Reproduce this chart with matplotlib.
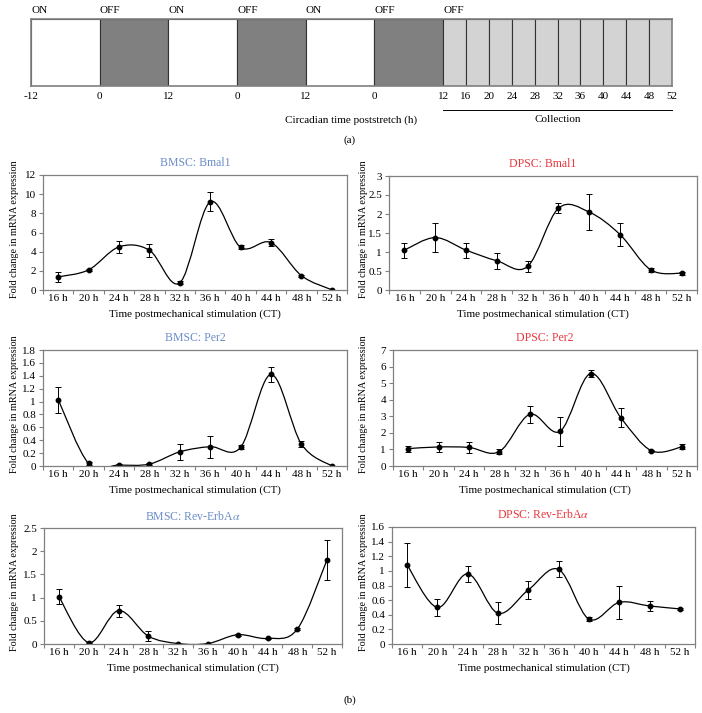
import numpy as np
import matplotlib
matplotlib.use("Agg")
import matplotlib.pyplot as plt
from matplotlib.path import Path
from matplotlib.patches import PathPatch

plt.rcParams['font.family'] = ['Liberation Serif', 'DejaVu Serif']
plt.rcParams['mathtext.fontset'] = 'stix'

# (a) light schedule
block_hours = [12, 12, 12, 12, 12, 12, 4, 4, 4, 4, 4, 4, 4, 4, 4, 4]
block_colors = ['white', '#808080', 'white', '#808080', 'white', '#808080'] + ['#d3d3d3'] * 10
onoff_labels = ['ON', 'OFF', 'ON', 'OFF', 'ON', 'OFF', 'OFF']
schedule_ticks = ['-12', '0', '12', '0', '12', '0', '12',
                  '16', '20', '24', '28', '32', '36', '40', '44', '48', '52']

# (b) expression data
times = ['16 h', '20 h', '24 h', '28 h', '32 h', '36 h', '40 h', '44 h', '48 h', '52 h']

bmsc_bmal1 = [1.37, 2.1, 4.5, 4.15, 0.75, 9.2, 4.45, 4.95, 1.5, 0.02]
bmsc_bmal1_err = [0.5, 0.1, 0.6, 0.7, 0.15, 1.0, 0.2, 0.35, 0.1, 0.0]

dpsc_bmal1 = [1.05, 1.38, 1.05, 0.77, 0.62, 2.15, 2.05, 1.46, 0.53, 0.44]
dpsc_bmal1_err = [0.2, 0.38, 0.2, 0.21, 0.15, 0.13, 0.47, 0.3, 0.05, 0.04]

bmsc_per2 = [1.03, 0.04, 0.015, 0.03, 0.22, 0.3, 0.29, 1.42, 0.34, 0.0]
bmsc_per2_err = [0.2, 0.02, 0.01, 0.01, 0.125, 0.17, 0.03, 0.12, 0.05, 0.0]

dpsc_per2 = [1.05, 1.15, 1.12, 0.87, 3.12, 2.1, 5.58, 2.9, 0.92, 1.15]
dpsc_per2_err = [0.18, 0.28, 0.35, 0.15, 0.5, 0.87, 0.2, 0.57, 0.05, 0.15]

bmsc_rev = [1.02, 0.03, 0.72, 0.17, 0.01, 0.01, 0.2, 0.12, 0.32, 1.82]
bmsc_rev_err = [0.16, 0.01, 0.13, 0.1, 0.0, 0.0, 0.02, 0.02, 0.02, 0.43]

dpsc_rev = [1.08, 0.5, 0.96, 0.42, 0.74, 1.02, 0.34, 0.57, 0.52, 0.48]
dpsc_rev_err = [0.3, 0.12, 0.11, 0.15, 0.12, 0.11, 0.03, 0.23, 0.07, 0.01]

W, H = 702, 713
BLUE = '#6b8cc8'
RED = '#e8383d'
GRAY = '#808080'

fig = plt.figure(figsize=(W / 100, H / 100), dpi=100)


def px_axes(left, top, right, bottom):
    return fig.add_axes([left / W, 1 - bottom / H, (right - left) / W, (bottom - top) / H])


def smooth_path(x, y, t=1 / 6):
    # excel style smoothed line as cubic bezier segments
    n = len(x)
    verts = [(x[0], y[0])]
    codes = [Path.MOVETO]
    for i in range(n - 1):
        a = i - 1 if i > 0 else i
        d = i + 2 if i + 2 < n else i + 1
        c1 = (x[i] + (x[i + 1] - x[a]) * t, y[i] + (y[i + 1] - y[a]) * t)
        c2 = (x[i + 1] - (x[d] - x[i]) * t, y[i + 1] - (y[d] - y[i]) * t)
        verts += [c1, c2, (x[i + 1], y[i + 1])]
        codes += [Path.CURVE4] * 3
    return Path(verts, codes)


# ---- (a) ----
ax = px_axes(31, 19, 672, 86)
starts = np.concatenate([[0], np.cumsum(block_hours)[:-1]])
ax.bar(starts, [1] * len(block_hours), width=block_hours, align='edge',
       color=block_colors, edgecolor='#333333', linewidth=0.8)
ax.set_xlim(0, sum(block_hours))
ax.set_ylim(0, 1)
for s in ax.spines.values():
    s.set_color(GRAY)
    s.set_linewidth(1.2)
ax.set_yticks([])
edges = np.concatenate([[0], np.cumsum(block_hours)])
ax.set_xticks(edges)
ax.set_xticklabels(schedule_ticks, fontsize=8)
ax.tick_params(axis='x', length=0, pad=4)
for i, lab in enumerate(onoff_labels):
    ax.text(edges[i], 1.134, lab, fontsize=8, ha='left', va='center')
ax.text(0.5, -0.507, 'Circadian time poststretch (h)', transform=ax.transAxes,
        fontsize=8, ha='center', va='center')
ax.plot([72, 112], [-0.358, -0.358], color='black', lw=0.7, clip_on=False)
ax.text(92, -0.507, 'Collection', fontsize=8, ha='center', va='center')
fig.text(350 / W, 1 - 140 / H, '(a)', fontsize=8, ha='center', va='center')

# ---- (b) ----
panels = [
    ('BMSC: Bmal1', BLUE, bmsc_bmal1, bmsc_bmal1_err, 12, 2, (43, 175, 347, 290), 15),
    ('DPSC: Bmal1', RED, dpsc_bmal1, dpsc_bmal1_err, 3, 0.5, (389, 176, 697, 290), 363),
    ('BMSC: Per2', BLUE, bmsc_per2, bmsc_per2_err, 1.8, 0.2, (43, 350, 347, 466), 15),
    ('DPSC: Per2', RED, dpsc_per2, dpsc_per2_err, 7, 1, (393, 350, 697, 466), 363),
    (r'BMSC: Rev-ErbA$\alpha$', BLUE, bmsc_rev, bmsc_rev_err, 2.5, 0.5, (44, 528, 342, 644), 15),
    (r'DPSC: Rev-ErbA$\alpha$', RED, dpsc_rev, dpsc_rev_err, 1.6, 0.2, (392, 527, 695, 644), 363),
]

x = np.arange(1, len(times) + 1)
for title, tcol, vals, errs, ymax, step, box, ylab_x in panels:
    left, top, right, bottom = box
    ax = px_axes(left, top, right, bottom)
    ax.set_xlim(0.5, len(times) + 0.5)
    ax.set_ylim(0, ymax)
    ax.add_patch(PathPatch(smooth_path(x, vals), fill=False, lw=0.9, edgecolor='black'))
    ax.errorbar(x, vals, yerr=errs, fmt='o', ms=3.2, color='black', ecolor='black',
                elinewidth=0.7, capsize=2, capthick=0.7)
    for s in ax.spines.values():
        s.set_color(GRAY)
        s.set_linewidth(0.9)
    yt = np.round(np.arange(0, ymax + step / 2, step), 2)
    ax.set_yticks(yt)
    ax.set_yticklabels([f'{v:g}' for v in yt], fontsize=8)
    ax.set_xticks(np.arange(0.5, len(times) + 1, 1))
    ax.set_xticklabels([])
    ax.set_xticks(x, minor=True)
    ax.set_xticklabels(times, minor=True, fontsize=8)
    ax.tick_params(axis='both', which='major', color=GRAY, length=3, width=0.8, pad=2)
    ax.tick_params(axis='x', which='minor', length=0, pad=3)
    ax.text(0.5, 1 + 12 / (bottom - top), title, color=tcol, transform=ax.transAxes,
            fontsize=8.5, ha='center', va='center')
    ax.text(0.5, -24 / (bottom - top), 'Time postmechanical stimulation (CT)',
            transform=ax.transAxes, fontsize=8, ha='center', va='center')
    ax.set_ylabel('Fold change in mRNA expression', fontsize=7.3, va='center')
    ax.yaxis.set_label_coords((ylab_x - left) / (right - left), 0.53)

fig.text(350 / W, 1 - 700 / H, '(b)', fontsize=8, ha='center', va='center')

fig.savefig('out.png', dpi=100)
